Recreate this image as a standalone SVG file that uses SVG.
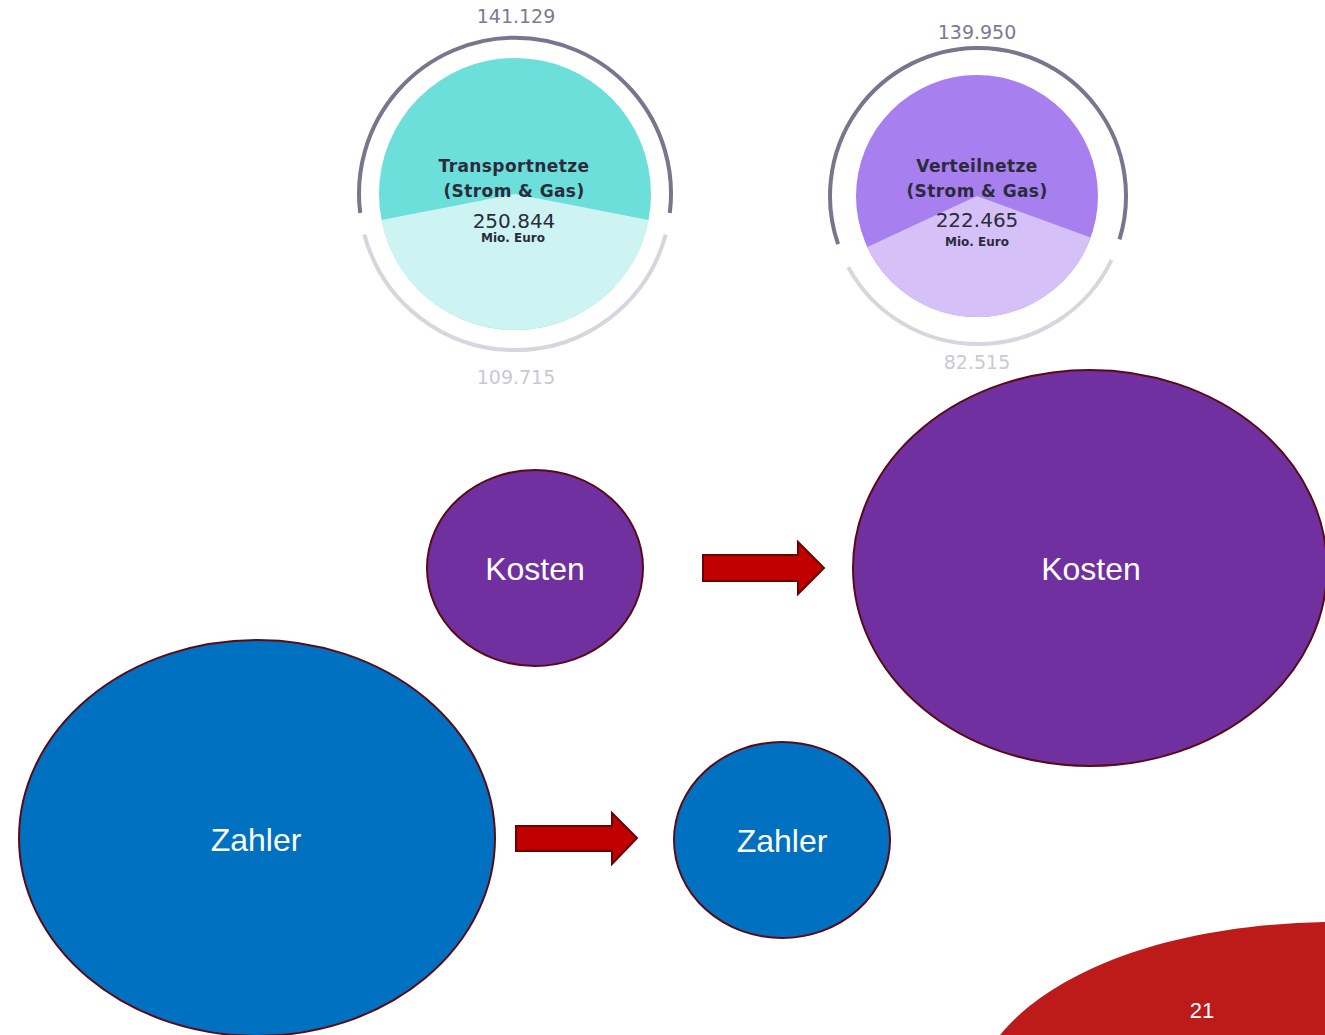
<svg xmlns="http://www.w3.org/2000/svg" width="1325" height="1035" viewBox="0 0 1325 1035">
<style>
.ringd{fill:none;stroke:#76768c;stroke-width:4}
.ringl{fill:none;stroke:#d6d6df;stroke-width:4}
.t{font-family:"DejaVu Sans",sans-serif;text-anchor:middle;fill:#2b2b3c}
.tb{font-weight:bold;font-size:17px;letter-spacing:0.4px}
.tn{font-size:20px}
.ts{font-weight:bold;font-size:12px}
.vt{font-family:"DejaVu Sans",sans-serif;text-anchor:middle;font-size:19px}
.node{stroke:#5a0a14;stroke-width:2}
.lbl{font-family:"Liberation Sans",Arial,sans-serif;font-size:32px;fill:#ffffff;text-anchor:middle}
.arrow{fill:#c00000;stroke:#6b0000;stroke-width:2}
</style>
<rect width="1325" height="1035" fill="#ffffff"/>
<g id="transportnetze">
<path class="ringd" d="M360.2 213 A156 156 0 1 1 669.8 213"/>
<path class="ringl" d="M665.7 234.4 A156 156 0 0 1 364.3 234.4"/>
<circle cx="515" cy="194" r="136" fill="#6ddfdb"/>
<path d="M515 194 L648.5 220 A136 136 0 0 1 381.5 220 Z" fill="#cdf4f3"/>
<text class="vt" x="516" y="23" fill="#7a7a90">141.129</text>
<text class="vt" x="516" y="384" fill="#c9c9d4">109.715</text>
<text class="t tb" x="514" y="172">Transportnetze</text>
<text class="t tb" x="514" y="197">(Strom &amp; Gas)</text>
<text class="t tn" x="514" y="228">250.844</text>
<text class="t ts" x="513" y="242">Mio. Euro</text>
</g>
<g id="verteilnetze">
<path class="ringd" d="M838.1 244.2 A148 148 0 1 1 1119.5 239.3"/>
<path class="ringl" d="M1111.5 260 A148 148 0 0 1 848.2 267.1"/>
<circle cx="977" cy="196" r="121" fill="#a77fef"/>
<path d="M977 196 L1090.7 237.4 A121 121 0 0 1 867.3 247.1 Z" fill="#d5c0f7"/>
<text class="vt" x="977" y="39" fill="#7a7a90">139.950</text>
<text class="vt" x="977" y="369" fill="#c9c9d4">82.515</text>
<text class="t tb" x="977" y="172">Verteilnetze</text>
<text class="t tb" x="977" y="197">(Strom &amp; Gas)</text>
<text class="t tn" x="977" y="227">222.465</text>
<text class="t ts" x="977" y="246">Mio. Euro</text>
</g>
<g id="corner">
<path d="M1000 1035 C1045 980 1150 926 1325 922 L1325 1035 Z" fill="#bd1a1a"/>
<text x="1202" y="1018" font-family="Liberation Sans,Arial,sans-serif" font-size="22" fill="#ffffff" text-anchor="middle">21</text>
</g>
<g id="kosten-small">
<ellipse class="node" cx="535" cy="568" rx="108" ry="98" fill="#7030a0"/>
<text class="lbl" x="535" y="580">Kosten</text>
</g>
<g id="kosten-large">
<ellipse class="node" cx="1090" cy="568" rx="237" ry="198" fill="#7030a0"/>
<text class="lbl" x="1091" y="580">Kosten</text>
</g>
<g id="zahler-large">
<ellipse class="node" cx="257" cy="838" rx="238" ry="198" fill="#0070c0"/>
<text class="lbl" x="256" y="851">Zahler</text>
</g>
<g id="zahler-small">
<ellipse class="node" cx="782" cy="840" rx="108" ry="98" fill="#0070c0"/>
<text class="lbl" x="782" y="852">Zahler</text>
</g>
<g id="connectors">
<path class="arrow" d="M703 555 L798 555 L798 542 L824 568 L798 594 L798 581 L703 581 Z"/>
<path class="arrow" d="M516 826 L612 826 L612 813 L637 838 L612 864 L612 851 L516 851 Z"/>
</g>
</svg>
